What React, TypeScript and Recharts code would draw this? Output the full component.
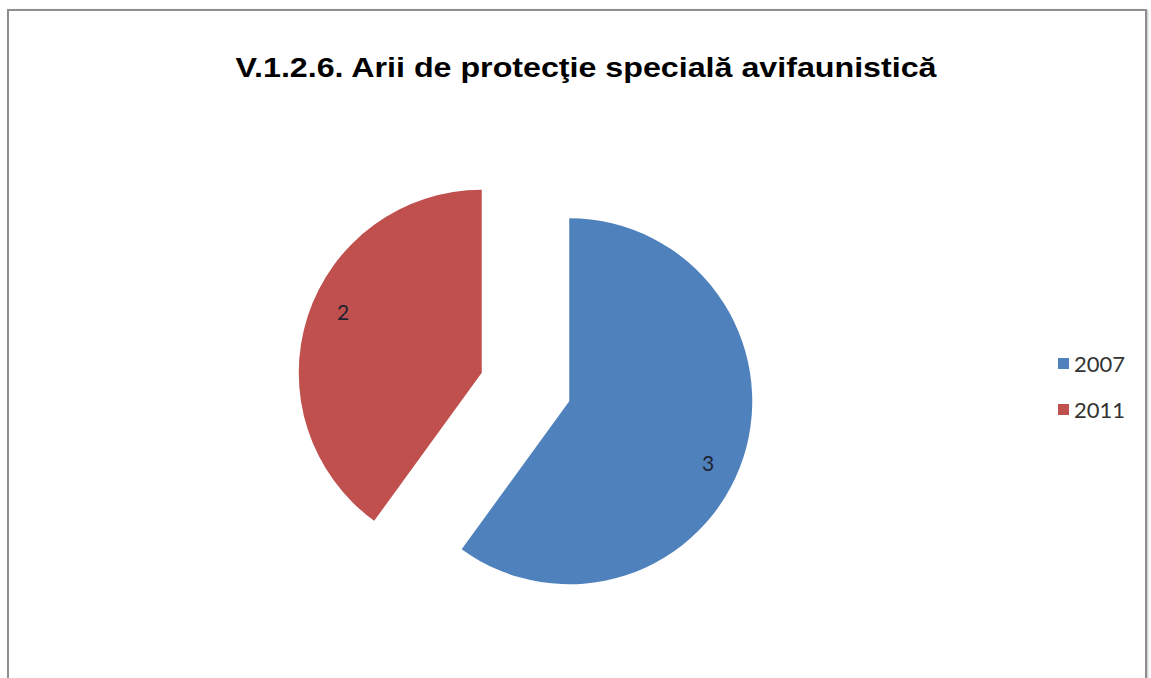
import React from "react";
import { PieChart, Pie, Cell, Legend } from "recharts";

const CATEGORIES = ["2007", "2011"];
const VALUES = [3, 2];
const COLORS = ["#4f81bd", "#c0504d"];
const TITLE = "V.1.2.6. Arii de protecţie specială avifaunistică";

const data = CATEGORIES.map((name, i) => ({ name, value: VALUES[i] }));

const W = 1151;
const H = 678;
const CX = 525.5;
const CY = 387;
const R = 183;
const EXPLODE = 46;

const total = VALUES.reduce((a, b) => a + b, 0);
let acc = 0;
const offsets = VALUES.map((v) => {
  const mid = 90 - ((acc + v / 2) / total) * 360;
  acc += v;
  const rad = (mid * Math.PI) / 180;
  return { dx: EXPLODE * Math.cos(rad), dy: -EXPLODE * Math.sin(rad) };
});

const makeLabel = (visibleIndex: number) => (props: any) => {
  const { cx, cy, midAngle, outerRadius, index, value } = props;
  if (index !== visibleIndex) return null;
  const rad = ((midAngle - 6) * Math.PI) / 180;
  const rr = outerRadius * 0.83;
  const x = cx + rr * Math.cos(rad);
  const y = cy - rr * Math.sin(rad);
  return (
    <text
      x={x}
      y={y}
      textAnchor="middle"
      dominantBaseline="central"
      fill="#1e2230"
      fontFamily="Lato, 'Open Sans', sans-serif"
      fontSize={21}
    >
      {value}
    </text>
  );
};

const renderLegend = () => (
  <div style={{ fontFamily: "Lato, 'Open Sans', sans-serif" }}>
    {CATEGORIES.map((c, i) => (
      <div
        key={c}
        style={{ display: "flex", alignItems: "center", height: 46.5, fontSize: 22, color: "#333" }}
      >
        <span
          style={{
            display: "inline-block",
            width: 11,
            height: 11,
            background: COLORS[i],
            marginRight: 5,
          }}
        />
        <span>{c}</span>
      </div>
    ))}
  </div>
);

export default function App() {
  return (
    <div style={{ position: "absolute", left: 0, top: 0, width: W, height: H, overflow: "hidden", background: "#fff" }}>
      <div
        style={{
          position: "absolute",
          left: 7,
          top: 9,
          width: 1136,
          height: 720,
          border: "2px solid #8e8e8e",
          boxShadow: "1px 1px 2px rgba(0,0,0,0.25)",
        }}
      />
      <svg style={{ position: "absolute", left: 0, top: 0 }} width={W} height={H}>
        <text
          x={586}
          y={77}
          textAnchor="middle"
          fontFamily="'Liberation Sans', Arial, sans-serif"
          fontWeight="bold"
          fontSize={28}
          fill="#000"
          textLength={701}
          lengthAdjust="spacingAndGlyphs"
        >
          {TITLE}
        </text>
      </svg>
      <div style={{ position: "absolute", left: 0, top: 0 }}>
        <PieChart width={W} height={H} margin={{ top: 0, right: 0, bottom: 0, left: 0 }}>
          {data.map((_, vi) => (
            <Pie
              key={vi}
              data={data}
              dataKey="value"
              nameKey="name"
              cx={CX + offsets[vi].dx}
              cy={CY + offsets[vi].dy}
              outerRadius={R}
              startAngle={90}
              endAngle={-270}
              stroke="none"
              isAnimationActive={false}
              labelLine={false}
              label={makeLabel(vi)}
              legendType={vi === 0 ? "square" : "none"}
            >
              {data.map((d, i) => (
                <Cell key={d.name} fill={COLORS[i]} fillOpacity={i === vi ? 1 : 0} />
              ))}
            </Pie>
          ))}
          <Legend
            content={renderLegend}
            wrapperStyle={{ position: "absolute", left: 1058, top: 340, width: 90 }}
          />
        </PieChart>
      </div>
    </div>
  );
}
